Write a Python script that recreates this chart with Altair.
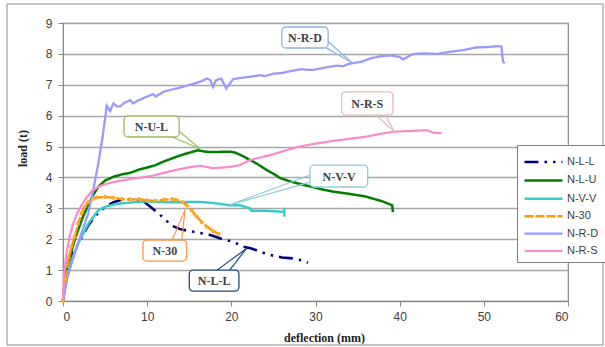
import altair as alt
import pandas as pd

series_names = ["N-L-L", "N-L-U", "N-V-V", "N-30", "N-R-D", "N-R-S"]
series_colors = ["#000080", "#008000", "#33CCCC", "#FF9900", "#9999FF", "#FF88CC"]
series_dash = [[14, 6, 2.5, 6, 2.5, 6], [1, 0], [1, 0], [9, 2], [1, 0], [1, 0]]
series_width = [2.6, 2.2, 2.0, 3.0, 1.6, 1.8]

nll_d = [0, 0.3, 0.6, 1.2, 2.0, 3.0, 4.0, 5.0, 6.0, 7.0, 8.0, 9.0, 9.7, 10.3, 11.2, 12.1, 12.9, 14.0,
         15.5, 17.5, 19.0, 20.2, 21.4, 22.4, 23.4, 24.6, 26.0, 27.3, 28.3, 29.1]
nll_l = [0, 0.8, 1.25, 1.55, 1.95, 2.45, 2.8, 3.05, 3.2, 3.28, 3.3, 3.28, 3.2, 3.07, 2.87, 2.65, 2.44, 2.32,
         2.24, 2.14, 2.0, 1.92, 1.76, 1.7, 1.6, 1.49, 1.41, 1.38, 1.32, 1.24]

nlu_d = [0, 0.3, 0.8, 1.3, 1.8, 2.4, 3.0, 3.5, 4.2, 5.0, 6.0, 7.0, 8.0, 9.0, 10.0, 11.0, 12.0, 13.0, 14.0,
         15.0, 16.0, 17.0, 18.0, 19.0, 20.0, 20.5, 21.3, 22.2, 23.0, 24.2, 25.0, 25.8, 27.0, 28.0, 29.5,
         31.0, 32.1, 34.0, 36.0, 38.0, 39.1, 39.2]
nlu_l = [0, 0.8, 1.4, 1.9, 2.3, 2.75, 3.1, 3.4, 3.7, 3.9, 4.02, 4.1, 4.15, 4.25, 4.32, 4.4, 4.52, 4.62, 4.72,
         4.8, 4.88, 4.83, 4.82, 4.83, 4.83, 4.8, 4.7, 4.57, 4.45, 4.24, 4.12, 3.98, 3.87, 3.8, 3.7,
         3.6, 3.54, 3.47, 3.38, 3.22, 3.1, 2.88]

nvv_d = [0, 0.3, 0.7, 1.2, 1.7, 2.2, 3.0, 4.2, 5.0, 6.0, 7.0, 8.5, 10.0, 12.0, 14.0, 16.3, 17.5, 18.5,
         19.8, 21.0, 22.2, 22.4, 24.0, 26.1, 26.3, 26.3, 26.3]
nvv_l = [0, 0.5, 1.0, 1.45, 1.8, 2.08, 2.5, 2.94, 3.05, 3.12, 3.16, 3.2, 3.22, 3.2, 3.2, 3.21, 3.18, 3.15,
         3.1, 3.1, 3.0, 2.92, 2.92, 2.89, 2.89, 3.02, 2.73]

n30_d = [0, 0.3, 0.7, 1.0, 1.4, 1.8, 2.2, 2.6, 3.0, 3.5, 4.0, 5.0, 6.0, 7.0, 8.0, 9.0, 10.0, 11.0, 12.0,
         13.0, 13.5, 14.2, 14.7, 15.3, 15.9, 16.5, 17.1, 17.8, 18.5]
n30_l = [0, 0.7, 1.4, 1.75, 2.08, 2.5, 2.84, 3.05, 3.2, 3.3, 3.35, 3.37, 3.34, 3.3, 3.28, 3.3, 3.26, 3.24,
         3.28, 3.3, 3.27, 3.2, 3.1, 2.93, 2.73, 2.55, 2.4, 2.27, 2.17]

nrd_d = [0, 0.5, 1.4, 2.2, 3.0, 3.6, 4.2, 4.7, 5.2, 5.6, 6.0, 6.4, 6.8, 7.3, 8.0, 8.3, 9.0, 10.0, 10.7,
         11.0, 12.0, 13.0, 14.3, 15.5, 16.5, 17.1, 17.5, 17.8, 18.2, 18.8, 19.4, 20.2, 21.0, 22.0, 23.4,
         24.0, 25.0, 26.0, 27.0, 28.1, 29.7, 31.0, 32.5, 33.3, 34.0, 35.5, 36.5, 37.6, 39.0, 40.0, 40.4,
         41.6, 43.0, 44.5, 46.0, 47.5, 49.1, 50.5, 51.5, 52.1, 52.2, 52.3, 52.5]
nrd_l = [0, 0.75, 1.55, 2.2, 2.84, 3.6, 4.46, 5.3, 6.32, 6.15, 6.4, 6.3, 6.3, 6.42, 6.5, 6.4, 6.5, 6.62, 6.7,
         6.62, 6.78, 6.85, 6.94, 7.03, 7.12, 7.2, 7.15, 6.94, 7.15, 7.2, 6.88, 7.18, 7.22, 7.25, 7.31,
         7.28, 7.36, 7.38, 7.44, 7.5, 7.48, 7.55, 7.62, 7.6, 7.68, 7.75, 7.85, 7.92, 7.95, 7.9, 7.82,
         8.0, 8.02, 8.0, 8.07, 8.12, 8.21, 8.22, 8.25, 8.24, 7.9, 7.74, 7.7]

nrs_d = [0, 0.1, 0.4, 0.8, 1.2, 1.7, 2.2, 2.8, 3.4, 4.2, 5.0, 6.0, 7.0, 8.0, 9.3, 10.5, 12.0, 13.5, 15.0,
         16.3, 17.8, 19.0, 20.0, 21.0, 22.2, 23.5, 25.0, 26.5, 28.1, 30.1, 32.0, 34.0, 36.0, 37.5, 39.2,
         41.0, 43.2, 44.0, 45.0]
nrs_l = [0, 0.8, 1.5, 2.1, 2.5, 2.85, 3.1, 3.35, 3.55, 3.7, 3.78, 3.85, 3.9, 3.95, 4.0, 4.05, 4.15, 4.25, 4.33,
         4.38, 4.3, 4.32, 4.35, 4.4, 4.56, 4.65, 4.75, 4.88, 5.0, 5.1, 5.18, 5.25, 5.32, 5.4, 5.48,
         5.5, 5.53, 5.45, 5.43]

x_ticks = [0, 10, 20, 30, 40, 50, 60]
y_ticks = [0, 1, 2, 3, 4, 5, 6, 7, 8, 9]

# callouts: label, box (d1, d2, l1, l2), text (d, l), pointer bases and tip, border colour
callout_labels = ["N-R-D", "N-R-S", "N-U-L", "N-V-V", "N-30", "N-L-L"]
callout_colors = ["#8DB3E2", "#E6B9B8", "#9BBB59", "#92CDDC", "#F79646", "#1F497D"]
callout_box = [(26.0, 31.5, 8.19, 8.87), (33.1, 39.2, 6.02, 6.77), (7.25, 13.8, 5.31, 5.99),
               (29.35, 36.2, 3.69, 4.40), (9.5, 14.7, 1.29, 1.97), (15.0, 20.9, 0.32, 1.0)]
callout_text = [(28.75, 8.52), (36.15, 6.38), (10.5, 5.64), (32.8, 4.03), (12.1, 1.62), (17.95, 0.64)]
callout_base = [((30.6, 8.3), (31.3, 8.45)), ((37.2, 6.02), (38.3, 6.02)), ((13.0, 5.31), (13.8, 5.5)),
                ((29.35, 4.08), (29.35, 3.85)), ((12.95, 1.97), (14.1, 1.97)), ((18.3, 1.0), (19.8, 1.0))]
callout_tip = [(34.3, 7.72), (39.4, 5.47), (16.3, 4.92), (19.8, 3.11), (14.5, 2.95), (21.8, 1.7)]

all_d = [nll_d, nlu_d, nvv_d, n30_d, nrd_d, nrs_d]
all_l = [nll_l, nlu_l, nvv_l, n30_l, nrd_l, nrs_l]
rows = []
for name, ds, ls in zip(series_names, all_d, all_l):
    for i, (dv, lv) in enumerate(zip(ds, ls)):
        rows.append({"series": name, "d": dv, "load": lv, "idx": i})
df = pd.DataFrame(rows)

box_rows, text_rows, ptr_rows = [], [], []
for lab, col, bx, tx, bases, tip in zip(callout_labels, callout_colors, callout_box, callout_text,
                                         callout_base, callout_tip):
    box_rows.append({"d": bx[0], "d2": bx[1], "load": bx[2], "load2": bx[3], "col": col})
    text_rows.append({"d": tx[0], "load": tx[1], "label": lab})
    for b in bases:
        ptr_rows.append({"d": b[0], "load": b[1], "d2": tip[0], "load2": tip[1], "col": col})
box_df = pd.DataFrame(box_rows)
text_df = pd.DataFrame(text_rows)
ptr_df = pd.DataFrame(ptr_rows)

XT = "deflection  (mm)"
YT = "load (t)"
xscale = alt.Scale(domain=[0, 60], nice=False, zero=True)
yscale = alt.Scale(domain=[0, 9], nice=False)

x_axis = alt.Axis(values=x_ticks, grid=False, tickSize=5, labelPadding=5, labelFont="Liberation Sans",
                  labelFontSize=12, labelColor="#404040", tickColor="#888888", domainColor="#888888",
                  titleFont="Liberation Serif", titleFontSize=12, titleFontWeight="bold",
                  titleColor="#222222", titleX=261, titleY=36, titleBaseline="middle")
y_axis = alt.Axis(values=y_ticks, grid=True, gridColor="#A6A6A6", gridWidth=1.3, tickSize=5,
                  labelPadding=6, labelFont="Liberation Sans", labelFontSize=12, labelColor="#404040",
                  tickColor="#888888", domainColor="#888888", titleFont="Liberation Serif",
                  titleFontSize=12, titleFontWeight="bold", titleColor="#222222", labelOverlap=False,
                  titleX=-41, titleY=125, titleBaseline="middle", titleAlign="center")


def X():
    return alt.X("d:Q", title=XT, scale=xscale, axis=x_axis)


def Y():
    return alt.Y("load:Q", title=YT, scale=yscale, axis=y_axis)


frame = alt.Chart(pd.DataFrame({"a": [0]})).mark_rect(fill="white", fillOpacity=0, stroke="#8C8C8C",
                                                        strokeWidth=1).encode(
    x=alt.value(-56), x2=alt.value(540), y=alt.value(-19), y2=alt.value(322))

lines = alt.Chart(df).mark_line(clip=False).encode(
    x=X(),
    y=Y(),
    color=alt.Color("series:N", scale=alt.Scale(domain=series_names, range=series_colors),
                    sort=series_names,
                    legend=alt.Legend(orient="none", legendX=454, legendY=122, title=None,
                                      symbolType="M-1,0H3", symbolSize=361, symbolStrokeWidth=2.5,
                                      labelFont="Liberation Sans", labelFontSize=11,
                                      labelColor="#404040", strokeColor="#808080", fillColor="white",
                                      padding=6, rowPadding=1.4, labelOffset=22)),
    strokeDash=alt.StrokeDash("series:N", scale=alt.Scale(domain=series_names, range=series_dash),
                              sort=series_names, legend=None),
    strokeWidth=alt.StrokeWidth("series:N", scale=alt.Scale(domain=series_names, range=series_width),
                                sort=series_names, legend=None),
    order="idx:Q",
)

beads = alt.Chart(df).transform_filter(alt.datum.series == "N-30").mark_point(
    shape="circle", filled=True, size=10, color="#FFB347", stroke="#FF9900", strokeWidth=0.8, opacity=1
).encode(x=X(), y=Y())

pointers = alt.Chart(ptr_df).mark_rule(strokeWidth=1.2).encode(
    x=X(), x2="d2:Q", y=Y(), y2="load2:Q",
    color=alt.Color("col:N", scale=None),
)

boxes = alt.Chart(box_df).mark_rect(fill="white", cornerRadius=4, strokeWidth=1.3).encode(
    x=X(), x2="d2:Q", y=Y(), y2="load2:Q",
    stroke=alt.Stroke("col:N", scale=None),
)

texts = alt.Chart(text_df).mark_text(font="Liberation Serif", fontSize=12, fontWeight="bold",
                                     color="#404040", align="center", baseline="middle").encode(
    x=X(), y=Y(), text="label:N",
)

chart = alt.layer(frame, lines, beads, pointers, boxes, texts).properties(
    width=505, height=278,
    autosize=alt.AutoSizeParams(type="none"),
    padding={"left": 63, "top": 23, "right": 37, "bottom": 46},
    background="white",
).configure_view(stroke="#888888", strokeWidth=1.2)

chart.save("out.html", embed_options={"renderer": "svg", "actions": False})
